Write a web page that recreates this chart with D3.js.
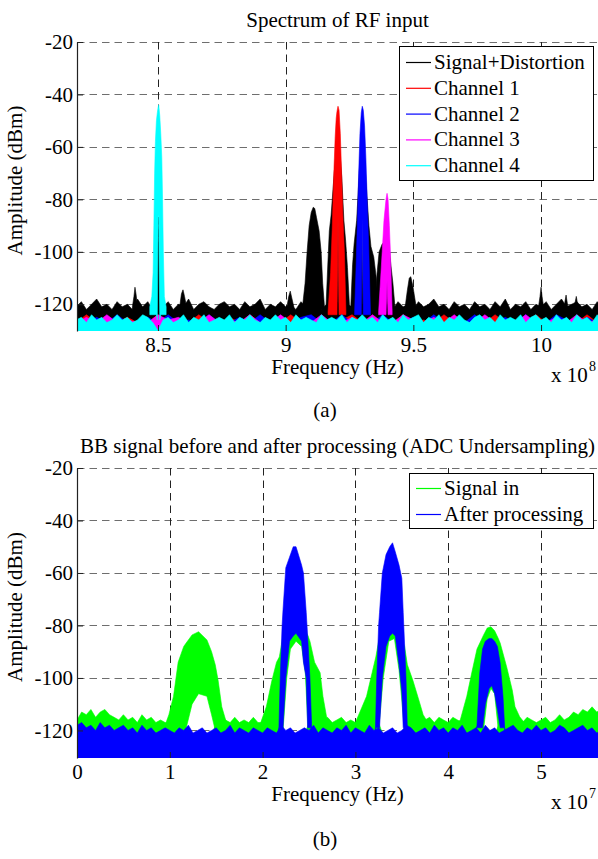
<!DOCTYPE html>
<html>
<head>
<meta charset="utf-8">
<script src="https://cdnjs.cloudflare.com/ajax/libs/d3/7.8.5/d3.min.js"></script>
<style>
body { margin: 0; background: #fff; }
svg text { font-family: "Liberation Serif", "Times New Roman", serif; font-size: 21px; fill: #000; }
</style>
</head>
<body>
<svg id="fig" width="598" height="859"></svg>
<script>
// ---------- data ----------
// (a) RF spectrum, frequency in units of 1e8 Hz, amplitude in dBm
const ampTicks = [-120, -100, -80, -60, -40, -20];
const rfTicks = [8.5, 9, 9.5, 10];
const rfNames = ["Signal+Distortion", "Channel 1", "Channel 2", "Channel 3", "Channel 4"];

// noise floor tops, sampled every 0.02 from 8.18
const rfFloorStart = 8.18, rfFloorStep = 0.02;
const rfFloorSig = [
  -121,-119,-122,-120,-118,-121,-120,-122,-119,-121,
  -120,-122,-118,-121,-119,-122,-120,-121,-119,-122,
  -120,-121,-118,-122,-120,-119,-121,-122,-120,-119,
  -121,-120,-122,-119,-121,-120,-118,-122,-120,-121,
  -119,-121,-120,-122,-119,-121,-120,-118,-122,-120,
  -121,-119,-122,-120,-121,-119,-120,-122,-121,-119,
  -121,-120,-122,-119,-121,-120,-122,-119,-121,-120,
  -118,-121,-120,-122,-119,-121,-120,-122,-119,-121,
  -120,-122,-119,-121,-118,-122,-120,-121,-119,-122,
  -120,-121,-119,-122,-120,-118,-121,-120,-119,-121,
  -120,-122,-119,-121
];
const rfFloorCh4 = [
  -126,-125,-127,-124,-126,-125,-127,-126,-124,-126,
  -125,-127,-126,-124,-125,-127,-130,-126,-125,-127,
  -126,-124,-127,-125,-126,-124,-127,-126,-125,-126,
  -124,-127,-125,-126,-124,-126,-127,-125,-126,-124,
  -126,-125,-127,-124,-126,-125,-126,-127,-124,-126,
  -125,-126,-124,-127,-125,-126,-124,-126,-125,-127,
  -124,-126,-125,-127,-124,-126,-125,-124,-127,-125,
  -126,-124,-127,-125,-126,-124,-126,-127,-125,-124,
  -126,-125,-127,-124,-126,-125,-126,-124,-127,-125,
  -124,-126,-125,-127,-124,-126,-125,-127,-124,-126,
  -125,-127,-124,-126
];
// sparser floors of channels 1-3, sampled every 0.04 from 8.18
const rfChStep = 0.04;
const rfFloorCh1 = [
  -127,-124,-127,-126,-127,-125,-127,-127,-124,-127,
  -126,-127,-124,-127,-127,-125,-127,-124,-127,-126,
  -127,-124,-127,-127,-125,-127,-126,-124,-127,-127,
  -125,-127,-124,-127,-126,-127,-124,-127,-127,-125,
  -127,-124,-127,-126,-127,-124,-127,-125,-127,-127,
  -124,-127,-126
];
const rfFloorCh2 = [
  -126,-127,-125,-127,-124,-127,-127,-125,-127,-124,
  -127,-126,-127,-124,-127,-127,-125,-127,-124,-127,
  -126,-127,-125,-124,-127,-127,-124,-127,-126,-127,
  -124,-127,-127,-125,-127,-124,-127,-126,-127,-124,
  -127,-127,-125,-127,-124,-127,-127,-124,-126,-127,
  -125,-127,-124
];
const rfFloorCh3 = [
  -127,-125,-127,-124,-127,-126,-127,-127,-124,-126,
  -125,-127,-127,-124,-127,-126,-127,-124,-127,-127,
  -124,-127,-126,-127,-124,-127,-127,-125,-127,-124,
  -127,-127,-124,-126,-127,-125,-127,-124,-127,-127,
  -124,-127,-126,-127,-124,-127,-127,-125,-127,-124,
  -127,-126,-125
];

// peaks: [freq, top, bottom(optional)]
const rfPeaksSig = [
  [[8.400,-121],[8.406,-117],[8.410,-113.5],[8.414,-116],[8.420,-121]],
  [[8.494,-121],[8.498,-100],[8.501,-88],[8.504,-97],[8.508,-121]],
  [[8.585,-121],[8.592,-116],[8.598,-114.5],[8.604,-117],[8.612,-121]],
  [[9.005,-121],[9.012,-117],[9.018,-115],[9.025,-118],[9.032,-121]],
  [[9.066,-121],[9.076,-112],[9.084,-100],[9.092,-90],[9.100,-85],[9.108,-83],[9.114,-83.5],[9.121,-87],[9.131,-92],[9.139,-100],[9.145,-112],[9.152,-121]],
  [[9.158,-121],[9.165,-105],[9.171,-92],[9.178,-86],[9.190,-70],[9.199,-60],[9.205,-122],[9.211,-60],[9.220,-72],[9.228,-88],[9.235,-96],[9.242,-106],[9.250,-121]],
  [[9.255,-121],[9.262,-105],[9.268,-97],[9.278,-88],[9.288,-70],[9.294,-60],[9.300,-122],[9.306,-60],[9.316,-75],[9.326,-90],[9.334,-98],[9.345,-102],[9.355,-110],[9.362,-121]],
  [[9.350,-121],[9.358,-108],[9.366,-100],[9.378,-97],[9.391,-96],[9.397,-122],[9.403,-96],[9.412,-105],[9.420,-112],[9.428,-121]],
  [[9.468,-121],[9.476,-115],[9.484,-110],[9.490,-109.5],[9.498,-113],[9.511,-121]],
  [[9.990,-121],[9.996,-117],[10.000,-113.5],[10.004,-117],[10.010,-121]],
  [[10.090,-121],[10.098,-116.5],[10.105,-121]],
  [[10.130,-121],[10.138,-117],[10.145,-121]]
];
const rfPeakCh1 = [[9.166,-123],[9.176,-108],[9.182,-92],[9.188,-72],[9.194,-56],[9.198,-49],[9.201,-46.5,-124],[9.205,-44.5,-86],[9.209,-46,-124],[9.214,-55],[9.219,-70],[9.224,-86],[9.230,-100],[9.236,-123]];
const rfPeakCh2 = [[9.270,-123],[9.276,-105],[9.281,-88],[9.286,-70],[9.291,-55],[9.296,-47,-124],[9.300,-44.5,-87],[9.304,-46,-124],[9.309,-52],[9.314,-64],[9.319,-80],[9.325,-97],[9.332,-123]];
const rfPeakCh3 = [[9.364,-123],[9.372,-110],[9.378,-100],[9.385,-88],[9.393,-80,-124],[9.397,-77.7,-111],[9.401,-80,-124],[9.406,-90],[9.410,-100],[9.417,-123]];
const rfPeakCh4 = [[8.468,-121],[8.476,-117],[8.481,-108],[8.484,-90],[8.487,-70],[8.490,-58],[8.494,-50],[8.4975,-47,-126],[8.5005,-45,-87],[8.503,-44,-86],[8.507,-48,-126],[8.511,-55],[8.515,-64],[8.518,-80],[8.521,-100],[8.525,-117],[8.532,-121]];

// (b) baseband spectrum, frequency in units of 1e7 Hz
const bbTicks = [0, 1, 2, 3, 4, 5];
const bbNames = ["Signal in", "After processing"];
const bbFloorStart = 0, bbFloorStep = 0.05;
const bbFloorIn = [
  -116,-113,-114,-112,-115,-113,-112,-114,-115,-116,
  -114,-116,-115,-117,-114,-116,-115,-117,-116,-117,
  -117,-117,-117,-117,-122,-122,-122,-122,-122,-122,
  -117,-117,-116,-117,-115,-117,-116,-117,-115,-117,
  -117,-116,-117,-117,-117,-122,-122,-122,-122,-122,
  -117,-117,-117,-116,-115,-117,-116,-115,-117,-116,
  -117,-116,-117,-117,-117,-117,-122,-122,-122,-122,
  -122,-117,-117,-117,-117,-116,-115,-117,-115,-116,
  -117,-115,-116,-117,-117,-117,-117,-117,-122,-122,
  -122,-117,-117,-117,-117,-116,-117,-115,-116,-117,
  -116,-115,-117,-116,-114,-116,-115,-113,-114,-112,
  -113,-111,-113,-112
];
const bbFloorOut = [
  -118,-117,-119,-118,-120,-117,-119,-118,-120,-119,
  -118,-120,-119,-121,-118,-120,-119,-121,-120,-119,
  -120,-121,-119,-120,-118,-121,-120,-119,-121,-120,
  -119,-121,-120,-118,-121,-119,-120,-121,-119,-120,
  -121,-119,-120,-121,-118,-120,-119,-121,-120,-119,
  -120,-118,-121,-119,-120,-121,-119,-120,-118,-121,
  -119,-120,-121,-118,-120,-119,-121,-120,-119,-121,
  -120,-118,-119,-121,-120,-119,-121,-118,-120,-119,
  -121,-119,-120,-118,-121,-120,-119,-121,-118,-120,
  -119,-121,-120,-119,-118,-120,-121,-119,-120,-118,
  -120,-119,-121,-120,-118,-119,-121,-120,-119,-118,
  -120,-119,-121,-120
];
const bbPeaksIn = [
  [[0.96,-117],[0.99,-114],[1.04,-107],[1.09,-94],[1.15,-88],[1.17,-87,-120],[1.24,-83.6,-110],[1.31,-82.4,-106],[1.40,-85.5,-107],[1.45,-90,-114],[1.49,-95,-120],[1.52,-100.8],[1.56,-111],[1.61,-117]],
  [[1.98,-117],[2.04,-111],[2.10,-101],[2.15,-94],[2.18,-92],[2.22,-84,-120],[2.26,-81,-100],[2.30,-80,-89],[2.36,-79,-86],[2.42,-80,-88],[2.46,-82,-98],[2.49,-84,-120],[2.51,-86],[2.56,-94],[2.62,-98],[2.65,-107],[2.69,-115],[2.72,-117]],
  [[3.00,-117],[3.06,-112],[3.12,-107],[3.18,-98],[3.22,-92],[3.25,-86,-120],[3.30,-82,-100],[3.36,-80,-86],[3.42,-80,-85],[3.47,-82,-97],[3.53,-88,-120],[3.56,-95],[3.62,-101],[3.68,-108],[3.73,-114],[3.78,-117]],
  [[4.10,-117],[4.13,-116],[4.20,-107],[4.26,-97],[4.31,-89],[4.38,-83.7,-120],[4.42,-81,-108],[4.46,-80.5,-104],[4.50,-82,-106],[4.54,-85,-120],[4.56,-86.7],[4.63,-95.8],[4.69,-104.6],[4.72,-111],[4.77,-114.8],[4.82,-117]]
];
const bbPeaksOut = [
  [[2.175,-120],[2.19,-100],[2.21,-80],[2.22,-74],[2.25,-58,-100],[2.29,-54,-86],[2.33,-50,-84],[2.36,-50,-83],[2.42,-57,-86],[2.44,-60,-94],[2.47,-75,-100],[2.485,-84],[2.51,-100],[2.53,-120]],
  [[3.215,-120],[3.23,-100],[3.25,-80],[3.26,-75],[3.29,-60,-100],[3.33,-53,-88],[3.37,-50,-84],[3.40,-48.5,-83],[3.43,-52,-84],[3.47,-57,-95],[3.50,-62,-105],[3.515,-75],[3.545,-100],[3.56,-120]],
  [[4.30,-120],[4.31,-118],[4.34,-98],[4.37,-89],[4.40,-86,-110],[4.44,-85,-104],[4.47,-85,-103],[4.50,-86,-106],[4.53,-88,-112],[4.56,-94.3],[4.59,-107],[4.61,-120]]
];

// ---------- drawing ----------
const svg = d3.select("#fig");

function drawPanel(opt) {
  const x = opt.x, y = opt.y;
  const [x0, x1] = x.range(), [yb, yt] = y.range();
  const g = svg.append("g");

  g.append("clipPath").attr("id", opt.id + "clip")
    .append("rect").attr("x", x0).attr("y", yt).attr("width", x1 - x0).attr("height", yb - yt);

  // grid (under the data)
  g.append("g").selectAll("line").data(opt.yTicks).join("line")
    .attr("x1", x0).attr("x2", x1)
    .attr("y1", d => Math.round(y(d)) + 0.5).attr("y2", d => Math.round(y(d)) + 0.5)
    .attr("stroke", "#6e6e6e").attr("stroke-width", 1.2).attr("stroke-dasharray", "7.5,5");
  g.append("g").selectAll("line").data(opt.xTicks.filter(d => x(d) > x0 + 1)).join("line")
    .attr("x1", d => Math.round(x(d)) + 0.5).attr("x2", d => Math.round(x(d)) + 0.5)
    .attr("y1", yt).attr("y2", yb)
    .attr("stroke", "#222").attr("stroke-width", 1).attr("stroke-dasharray", "7.5,5");

  const plot = g.append("g").attr("clip-path", "url(#" + opt.id + "clip)");
  const bottom = y.domain()[0];

  opt.series.forEach(s => {
    const floorPts = s.floor.map((v, i) => [s.start + i * s.step, v]);
    const floorArea = d3.area().x(d => x(d[0])).y0(y(bottom)).y1(d => y(d[1]));
    plot.append("path").datum(floorPts).attr("d", floorArea)
      .attr("fill", s.color).attr("stroke", s.color).attr("stroke-width", 0.6);
    const peakArea = d3.area().x(d => x(d[0]))
      .y0(d => y(d.length > 2 ? d[2] : s.base)).y1(d => y(d[1]));
    s.peaks.forEach(pk => {
      plot.append("path").datum(pk).attr("d", peakArea)
        .attr("fill", s.color).attr("stroke", s.color).attr("stroke-width", 0.6);
    });
  });

  // axes
  const ax = g.append("g").attr("transform", "translate(" + x0 + ",0)")
    .call(d3.axisLeft(y).tickValues(opt.yTicks).tickFormat(d => String(d))
      .tickSize(-6).tickSizeOuter(0).tickPadding(4));
  ax.select(".domain").attr("stroke", "#222").attr("stroke-width", 1.2);
  ax.selectAll(".tick line").attr("stroke", "#222");

  const bx = g.append("g").attr("transform", "translate(0," + yb + ")")
    .call(d3.axisBottom(x).tickValues(opt.xTicks).tickFormat(d => String(d))
      .tickSize(-6).tickSizeOuter(0).tickPadding(6));
  bx.select(".domain").remove();
  bx.selectAll(".tick line").attr("stroke", "#222");

  // labels
  g.append("text").attr("x", (x0 + x1) / 2).attr("y", yt - 15).attr("text-anchor", "middle").text(opt.title);
  g.append("text").attr("x", (x0 + x1) / 2).attr("y", yb + 43).attr("text-anchor", "middle").text("Frequency (Hz)");
  g.append("text").attr("transform", "translate(22," + ((yt + yb) / 2 - 6) + ") rotate(-90)")
    .attr("text-anchor", "middle").text("Amplitude (dBm)");
  g.append("text").attr("x", 551).attr("y", yb + 51).text("x 10");
  g.append("text").attr("x", 589).attr("y", yb + 40).style("font-size", "14px").text(opt.exp);
  g.append("text").attr("x", 325).attr("y", opt.capY).attr("text-anchor", "middle").text(opt.caption);

  // legend
  const L = opt.legend;
  g.append("rect").attr("x", L.x + 0.5).attr("y", L.y + 0.5).attr("width", L.w).attr("height", L.h)
    .attr("fill", "#fff").attr("stroke", "#000").attr("stroke-width", 1);
  const rows = g.append("g").selectAll("g").data(opt.series).join("g")
    .attr("transform", (d, i) => "translate(0," + (L.y + L.first + i * L.step) + ")");
  rows.append("line").attr("x1", L.x + 7).attr("x2", L.x + 32).attr("y1", 0.5).attr("y2", 0.5)
    .attr("stroke", d => d.color).attr("stroke-width", 1.2);
  rows.append("text").attr("x", L.x + 35).attr("y", 7).text(d => d.name);
}

drawPanel({
  id: "rf",
  x: d3.scaleLinear().domain([8.183, 10.223]).range([77, 598]),
  y: d3.scaleLinear().domain([-130.2, -20]).range([331, 42]),
  xTicks: rfTicks, yTicks: ampTicks,
  title: "Spectrum of RF input", exp: "8", caption: "(a)", capY: 417,
  legend: { x: 399, y: 46, w: 194, h: 134, first: 16, step: 25.8 },
  series: [
    { name: rfNames[0], color: "#000000", start: rfFloorStart, step: rfFloorStep, floor: rfFloorSig, peaks: rfPeaksSig, base: -122 },
    { name: rfNames[1], color: "#ff0000", start: rfFloorStart, step: rfChStep, floor: rfFloorCh1, peaks: [rfPeakCh1], base: -124 },
    { name: rfNames[2], color: "#0000ff", start: rfFloorStart, step: rfChStep, floor: rfFloorCh2, peaks: [rfPeakCh2], base: -124 },
    { name: rfNames[3], color: "#ff00ff", start: rfFloorStart, step: rfChStep, floor: rfFloorCh3, peaks: [rfPeakCh3], base: -124 },
    { name: rfNames[4], color: "#00ffff", start: rfFloorStart, step: rfFloorStep, floor: rfFloorCh4, peaks: [rfPeakCh4], base: -124 }
  ]
});

drawPanel({
  id: "bb",
  x: d3.scaleLinear().domain([0, 5.614]).range([77, 598]),
  y: d3.scaleLinear().domain([-130.5, -20]).range([758, 468]),
  xTicks: bbTicks, yTicks: ampTicks,
  title: "BB signal before and after processing (ADC Undersampling)", exp: "7", caption: "(b)", capY: 846,
  legend: { x: 409, y: 473, w: 184, h: 55, first: 15, step: 26 },
  series: [
    { name: bbNames[0], color: "#00ff00", start: bbFloorStart, step: bbFloorStep, floor: bbFloorIn, peaks: bbPeaksIn, base: -118 },
    { name: bbNames[1], color: "#0000ff", start: bbFloorStart, step: bbFloorStep, floor: bbFloorOut, peaks: bbPeaksOut, base: -119 }
  ]
});
</script>
</body>
</html>
